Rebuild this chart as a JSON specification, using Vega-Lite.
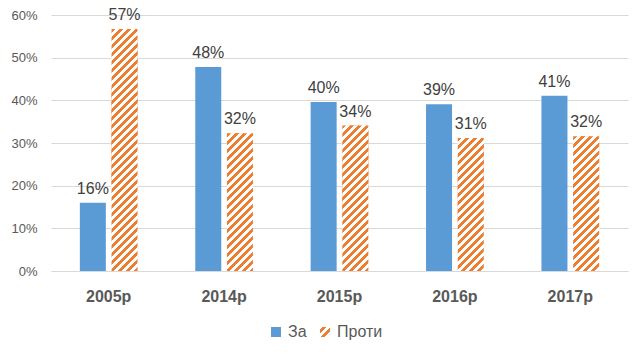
{
  "$schema": "https://vega.github.io/schema/vega-lite/v6.json",
  "width": 577,
  "height": 256,
  "autosize": {"type": "none"},
  "padding": {"left": 51, "top": 15, "right": 16, "bottom": 83},
  "background": "white",
  "params": [
    {"name": "legendStripes", "value": [
      {"offset": 0, "color": "#fff"}, {"offset": 0.12, "color": "#fff"},
      {"offset": 0.12, "color": "#ED7D31"}, {"offset": 0.32, "color": "#ED7D31"},
      {"offset": 0.32, "color": "#fff"}, {"offset": 0.52, "color": "#fff"},
      {"offset": 0.52, "color": "#ED7D31"}, {"offset": 0.72, "color": "#ED7D31"},
      {"offset": 0.72, "color": "#fff"}, {"offset": 1, "color": "#fff"}
    ]},
    {"name": "stripes", "value": [
      {"offset": 0, "color": "#ED7D31"}, {"offset": 0.0147, "color": "#ED7D31"},
      {"offset": 0.0147, "color": "#fff"}, {"offset": 0.0294, "color": "#fff"},
      {"offset": 0.0294, "color": "#ED7D31"}, {"offset": 0.0441, "color": "#ED7D31"},
      {"offset": 0.0441, "color": "#fff"}, {"offset": 0.0588, "color": "#fff"},
      {"offset": 0.0588, "color": "#ED7D31"}, {"offset": 0.0735, "color": "#ED7D31"},
      {"offset": 0.0735, "color": "#fff"}, {"offset": 0.0882, "color": "#fff"},
      {"offset": 0.0882, "color": "#ED7D31"}, {"offset": 0.1029, "color": "#ED7D31"},
      {"offset": 0.1029, "color": "#fff"}, {"offset": 0.1176, "color": "#fff"},
      {"offset": 0.1176, "color": "#ED7D31"}, {"offset": 0.1324, "color": "#ED7D31"},
      {"offset": 0.1324, "color": "#fff"}, {"offset": 0.1471, "color": "#fff"},
      {"offset": 0.1471, "color": "#ED7D31"}, {"offset": 0.1618, "color": "#ED7D31"},
      {"offset": 0.1618, "color": "#fff"}, {"offset": 0.1765, "color": "#fff"},
      {"offset": 0.1765, "color": "#ED7D31"}, {"offset": 0.1912, "color": "#ED7D31"},
      {"offset": 0.1912, "color": "#fff"}, {"offset": 0.2059, "color": "#fff"},
      {"offset": 0.2059, "color": "#ED7D31"}, {"offset": 0.2206, "color": "#ED7D31"},
      {"offset": 0.2206, "color": "#fff"}, {"offset": 0.2353, "color": "#fff"},
      {"offset": 0.2353, "color": "#ED7D31"}, {"offset": 0.25, "color": "#ED7D31"},
      {"offset": 0.25, "color": "#fff"}, {"offset": 0.2647, "color": "#fff"},
      {"offset": 0.2647, "color": "#ED7D31"}, {"offset": 0.2794, "color": "#ED7D31"},
      {"offset": 0.2794, "color": "#fff"}, {"offset": 0.2941, "color": "#fff"},
      {"offset": 0.2941, "color": "#ED7D31"}, {"offset": 0.3088, "color": "#ED7D31"},
      {"offset": 0.3088, "color": "#fff"}, {"offset": 0.3235, "color": "#fff"},
      {"offset": 0.3235, "color": "#ED7D31"}, {"offset": 0.3382, "color": "#ED7D31"},
      {"offset": 0.3382, "color": "#fff"}, {"offset": 0.3529, "color": "#fff"},
      {"offset": 0.3529, "color": "#ED7D31"}, {"offset": 0.3676, "color": "#ED7D31"},
      {"offset": 0.3676, "color": "#fff"}, {"offset": 0.3824, "color": "#fff"},
      {"offset": 0.3824, "color": "#ED7D31"}, {"offset": 0.3971, "color": "#ED7D31"},
      {"offset": 0.3971, "color": "#fff"}, {"offset": 0.4118, "color": "#fff"},
      {"offset": 0.4118, "color": "#ED7D31"}, {"offset": 0.4265, "color": "#ED7D31"},
      {"offset": 0.4265, "color": "#fff"}, {"offset": 0.4412, "color": "#fff"},
      {"offset": 0.4412, "color": "#ED7D31"}, {"offset": 0.4559, "color": "#ED7D31"},
      {"offset": 0.4559, "color": "#fff"}, {"offset": 0.4706, "color": "#fff"},
      {"offset": 0.4706, "color": "#ED7D31"}, {"offset": 0.4853, "color": "#ED7D31"},
      {"offset": 0.4853, "color": "#fff"}, {"offset": 0.5, "color": "#fff"},
      {"offset": 0.5, "color": "#ED7D31"}, {"offset": 0.5147, "color": "#ED7D31"},
      {"offset": 0.5147, "color": "#fff"}, {"offset": 0.5294, "color": "#fff"},
      {"offset": 0.5294, "color": "#ED7D31"}, {"offset": 0.5441, "color": "#ED7D31"},
      {"offset": 0.5441, "color": "#fff"}, {"offset": 0.5588, "color": "#fff"},
      {"offset": 0.5588, "color": "#ED7D31"}, {"offset": 0.5735, "color": "#ED7D31"},
      {"offset": 0.5735, "color": "#fff"}, {"offset": 0.5882, "color": "#fff"},
      {"offset": 0.5882, "color": "#ED7D31"}, {"offset": 0.6029, "color": "#ED7D31"},
      {"offset": 0.6029, "color": "#fff"}, {"offset": 0.6176, "color": "#fff"},
      {"offset": 0.6176, "color": "#ED7D31"}, {"offset": 0.6324, "color": "#ED7D31"},
      {"offset": 0.6324, "color": "#fff"}, {"offset": 0.6471, "color": "#fff"},
      {"offset": 0.6471, "color": "#ED7D31"}, {"offset": 0.6618, "color": "#ED7D31"},
      {"offset": 0.6618, "color": "#fff"}, {"offset": 0.6765, "color": "#fff"},
      {"offset": 0.6765, "color": "#ED7D31"}, {"offset": 0.6912, "color": "#ED7D31"},
      {"offset": 0.6912, "color": "#fff"}, {"offset": 0.7059, "color": "#fff"},
      {"offset": 0.7059, "color": "#ED7D31"}, {"offset": 0.7206, "color": "#ED7D31"},
      {"offset": 0.7206, "color": "#fff"}, {"offset": 0.7353, "color": "#fff"},
      {"offset": 0.7353, "color": "#ED7D31"}, {"offset": 0.75, "color": "#ED7D31"},
      {"offset": 0.75, "color": "#fff"}, {"offset": 0.7647, "color": "#fff"},
      {"offset": 0.7647, "color": "#ED7D31"}, {"offset": 0.7794, "color": "#ED7D31"},
      {"offset": 0.7794, "color": "#fff"}, {"offset": 0.7941, "color": "#fff"},
      {"offset": 0.7941, "color": "#ED7D31"}, {"offset": 0.8088, "color": "#ED7D31"},
      {"offset": 0.8088, "color": "#fff"}, {"offset": 0.8235, "color": "#fff"},
      {"offset": 0.8235, "color": "#ED7D31"}, {"offset": 0.8382, "color": "#ED7D31"},
      {"offset": 0.8382, "color": "#fff"}, {"offset": 0.8529, "color": "#fff"},
      {"offset": 0.8529, "color": "#ED7D31"}, {"offset": 0.8676, "color": "#ED7D31"},
      {"offset": 0.8676, "color": "#fff"}, {"offset": 0.8824, "color": "#fff"},
      {"offset": 0.8824, "color": "#ED7D31"}, {"offset": 0.8971, "color": "#ED7D31"},
      {"offset": 0.8971, "color": "#fff"}, {"offset": 0.9118, "color": "#fff"},
      {"offset": 0.9118, "color": "#ED7D31"}, {"offset": 0.9265, "color": "#ED7D31"},
      {"offset": 0.9265, "color": "#fff"}, {"offset": 0.9412, "color": "#fff"},
      {"offset": 0.9412, "color": "#ED7D31"}, {"offset": 0.9559, "color": "#ED7D31"},
      {"offset": 0.9559, "color": "#fff"}, {"offset": 0.9706, "color": "#fff"},
      {"offset": 0.9706, "color": "#ED7D31"}, {"offset": 0.9853, "color": "#ED7D31"},
      {"offset": 0.9853, "color": "#fff"}, {"offset": 1, "color": "#fff"}
    ]}
  ],
  "data": {
    "values": [
      {"year": "2005р", "series": "За", "value": 0.16},
      {"year": "2005р", "series": "Проти", "value": 0.567},
      {"year": "2014р", "series": "За", "value": 0.478},
      {"year": "2014р", "series": "Проти", "value": 0.323},
      {"year": "2015р", "series": "За", "value": 0.396},
      {"year": "2015р", "series": "Проти", "value": 0.341},
      {"year": "2016р", "series": "За", "value": 0.391},
      {"year": "2016р", "series": "Проти", "value": 0.312},
      {"year": "2017р", "series": "За", "value": 0.411},
      {"year": "2017р", "series": "Проти", "value": 0.316}
    ]
  },
  "encoding": {
    "x": {
      "field": "year", "type": "nominal", "sort": ["2005р", "2014р", "2015р", "2016р", "2017р"],
      "scale": {"paddingInner": 0.5, "paddingOuter": 0.25},
      "axis": {
        "title": null, "labelAngle": 0, "labelFont": "Liberation Sans", "labelFontWeight": "bold",
        "labelFontSize": 16, "labelColor": "#595959", "labelPadding": 17, "ticks": false,
        "domain": true, "domainColor": "#D9D9D9", "domainWidth": 1, "grid": false
      }
    },
    "xOffset": {
      "field": "series", "type": "nominal", "sort": ["За", "Проти"],
      "scale": {"paddingInner": 0.18, "paddingOuter": 0}
    },
    "y": {
      "field": "value", "type": "quantitative",
      "scale": {"domain": [0, 0.6], "nice": false},
      "axis": {
        "title": null, "format": ".0%", "values": [0, 0.1, 0.2, 0.3, 0.4, 0.5, 0.6],
        "labelFont": "Liberation Sans", "labelFontSize": 13, "labelColor": "#595959",
        "labelPadding": 14, "ticks": false, "domain": false,
        "grid": true, "gridColor": "#D9D9D9", "gridWidth": 1
      }
    }
  },
  "layer": [
    {
      "mark": {"type": "bar"},
      "encoding": {
        "color": {
          "field": "series", "type": "nominal", "sort": ["За", "Проти"],
          "scale": {"range": [
            "#5B9BD5",
            {"expr": "{gradient: 'linear', x1: 0, y1: 0, x2: 1, y2: 1, stops: legendStripes}"}
          ]},
          "legend": {
            "title": null, "orient": "none", "legendX": 217, "legendY": 309,
            "direction": "horizontal", "symbolType": "square", "symbolSize": 100,
            "symbolStrokeWidth": 0, "labelFont": "Liberation Sans", "labelFontSize": 16,
            "labelColor": "#595959", "labelOffset": 4, "columnPadding": 10, "padding": 0,
            "symbolOpacity": 1
          }
        }
      }
    },
    {
      "transform": [{"filter": "datum.series === 'Проти'"}],
      "mark": {"type": "bar"},
      "encoding": {
        "fill": {
          "field": "year", "type": "nominal",
          "scale": {
            "domain": ["2005р", "2014р", "2015р", "2016р", "2017р"],
            "range": [
              {"expr": "{gradient: 'linear', x1: 0, y1: 0, x2: 0.11946, y2: 1.1115, stops: stripes}"},
              {"expr": "{gradient: 'linear', x1: 0, y1: 0, x2: 0.35958, y2: 1.90589, stops: stripes}"},
              {"expr": "{gradient: 'linear', x1: 0, y1: 0, x2: 0.32376, y2: 1.8117, stops: stripes}"},
              {"expr": "{gradient: 'linear', x1: 0, y1: 0, x2: 0.38441, y2: 1.96819, stops: stripes}"},
              {"expr": "{gradient: 'linear', x1: 0, y1: 0, x2: 0.37507, y2: 1.94503, stops: stripes}"}
            ]
          },
          "legend": null
        }
      }
    },
    {
      "mark": {"type": "text", "dy": -9, "baseline": "alphabetic", "fontSize": 16, "font": "Liberation Sans", "color": "#404040"},
      "encoding": {
        "text": {"field": "value", "type": "quantitative", "format": ".0%"}
      }
    }
  ],
  "config": {
    "view": {"stroke": null}
  }
}
